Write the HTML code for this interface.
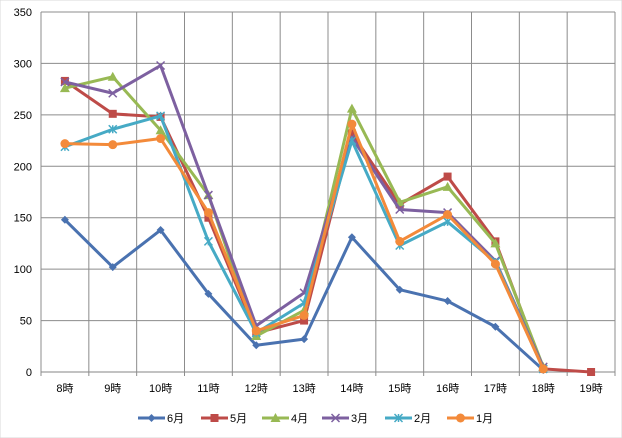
<!DOCTYPE html>
<html><head><meta charset="utf-8">
<style>
body{margin:0;background:#fff;}
svg{display:block;font-family:"Liberation Sans","Noto Sans CJK JP",sans-serif;}
</style></head>
<body>
<svg id="chart" width="622" height="438">
<rect x="0" y="0" width="622" height="438" fill="#fff" stroke="#d9d9d9"/>
<g id="grid"></g><g id="axes"></g><g id="series"></g><g id="legend"></g>
</svg>
<script>
const categories = ["8時","9時","10時","11時","12時","13時","14時","15時","16時","17時","18時","19時"];
const seriesNames = ["6月","5月","4月","3月","2月","1月"];
const s6 = [148,102,138,76,26,32,131,80,69,44,2,null];
const s5 = [283,251,248,150,38,50,232,163,190,127,3,0];
const s4 = [276,287,235,172,35,60,256,165,180,125,5,null];
const s3 = [282,271,298,172,45,77,228,158,155,108,5,null];
const s2 = [219,236,249,127,38,67,225,123,146,107,3,null];
const s1 = [222,221,227,155,40,55,241,127,153,105,3,null];
const yTicks = [0,50,100,150,200,250,300,350];
const seriesData = [s6,s5,s4,s3,s2,s1];
const colors = ["#4A72B0","#BE4B48","#98B954","#7D60A0","#46AAC5","#F38A3A"];
const markers = ["diamond","square","triangle","x","star","circle"];
const NS="http://www.w3.org/2000/svg";
const X0=41,X1=615,Y0=372,YT=12,YMAX=350;
const cw=(X1-X0)/categories.length;
function xS(i){return X0+cw*(i+0.5);}
function yS(v){return Y0-(v/YMAX)*(Y0-YT);}
function mk(tag,attrs,parent){const e=document.createElementNS(NS,tag);for(const k in attrs)e.setAttribute(k,attrs[k]);parent.appendChild(e);return e;}
const grid=document.getElementById('grid'),axes=document.getElementById('axes'),ser=document.getElementById('series'),leg=document.getElementById('legend');
yTicks.forEach(t=>{
 const l=mk('line',{x1:X0,x2:X1,y1:yS(t),y2:yS(t),stroke:t===0?'#868686':'#8c8c8c','stroke-width':1},grid);
 
 
 const tx=mk('text',{x:X0-9,y:yS(t)+4,'text-anchor':'end','font-size':11,fill:'#000'},axes);
 tx.textContent=t;
 
 
});
for(let i=0;i<=categories.length;i++){
 const x=X0+cw*i;
 const l=mk('line',{x1:x,x2:x,y1:YT,y2:Y0+4,stroke:'#8c8c8c','stroke-width':1},grid);
 
 
}
categories.forEach((c,i)=>{
 const tx=mk('text',{x:xS(i),y:392,'text-anchor':'middle','font-size':11,fill:'#000'},axes);
 tx.textContent=c;
 
 
});
function marker(type,x,y,color,parent,size){
 const s=size||4;let e;
 if(type==='diamond')e=mk('polygon',{points:`${x},${y-s} ${x+s},${y} ${x},${y+s} ${x-s},${y}`,fill:color},parent);
 else if(type==='square')e=mk('rect',{x:x-s,y:y-s,width:2*s,height:2*s,fill:color},parent);
 else if(type==='triangle')e=mk('polygon',{points:`${x},${y-s-1} ${x+s+1},${y+s} ${x-s-1},${y+s}`,fill:color},parent);
 else if(type==='x')e=mk('path',{d:`M${x-s},${y-s}L${x+s},${y+s}M${x-s},${y+s}L${x+s},${y-s}`,stroke:color,'stroke-width':1.5,fill:'none'},parent);
 else if(type==='star')e=mk('path',{d:`M${x-s},${y-s}L${x+s},${y+s}M${x-s},${y+s}L${x+s},${y-s}M${x},${y-s}L${x},${y+s}`,stroke:color,'stroke-width':1.5,fill:'none'},parent);
 else e=mk('circle',{cx:x,cy:y,r:s+0.5,fill:color},parent);
 return e;
}
seriesData.forEach((d,si)=>{
 const g=mk('g',{},ser);
 
 
 let pts=[];d.forEach((v,i)=>{if(v!==null)pts.push(xS(i)+','+yS(v));});
 const pl=mk('polyline',{points:pts.join(' '),fill:'none',stroke:colors[si],'stroke-width':3,'stroke-linejoin':'round'},g);
 
 
 d.forEach((v,i)=>{if(v===null)return;
  const m=marker(markers[si],xS(i),yS(v),colors[si],g,4);
  
  
 });
});
const legX=[138,201,262,322,385,447];
seriesNames.forEach((n,i)=>{
 const g=mk('g',{},leg);
 
 
 const y=418;
 mk('line',{x1:legX[i],x2:legX[i]+27,y1:y,y2:y,stroke:colors[i],'stroke-width':3},g);
 marker(markers[i],legX[i]+13.5,y,colors[i],g,4);
 const t=mk('text',{x:legX[i]+29,y:y+4,'font-size':11,fill:'#000'},g);
 t.textContent=n;
});
</script>
</body></html>
